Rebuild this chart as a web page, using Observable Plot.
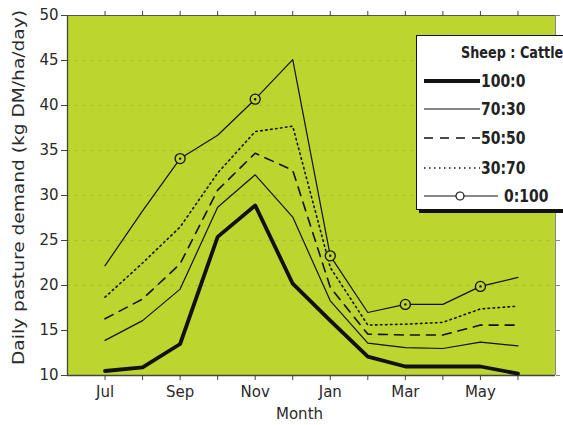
<!DOCTYPE html>
<html>
<head>
<meta charset="utf-8">
<script src="https://cdn.jsdelivr.net/npm/d3@7"></script>
<script src="https://cdn.jsdelivr.net/npm/@observablehq/plot@0.6"></script>
<style>
  html, body { margin: 0; padding: 0; background: #fff; }
  #wrap { position: relative; width: 563px; height: 425px; overflow: hidden; font-family: "DejaVu Sans", sans-serif; }
  #legend { position: absolute; left: 416px; top: 35px; width: 160px; height: 175px; background: #fff; border: 1.5px solid #111; box-shadow: 3px 3px 0 #111; box-sizing: border-box; }
  #legend .title { position: absolute; left: 44px; top: 7px; font-weight: bold; font-size: 16px; color: #222; white-space: nowrap; transform: scaleX(0.8); transform-origin: left center; }
  #legend .row { position: absolute; left: 5px; height: 20px; display: flex; align-items: center; font-size: 17px; font-weight: bold; color: #222; }
  #legend .row span { display: inline-block; transform: scaleX(0.82); transform-origin: left center; }
  #legend svg { display: block; }
</style>
</head>
<body>
<div id="wrap"></div>
<script>
const months = ["Jul","Aug","Sep","Oct","Nov","Dec","Jan","Feb","Mar","Apr","May","Jun"];
const labels = ["100:0","70:30","50:50","30:70","0:100"];
const s100_0 = [10.5,10.9,13.5,25.4,28.9,20.2,16.1,12.1,11.0,11.0,11.0,10.2];
const s70_30 = [13.9,16.1,19.6,28.7,32.3,27.6,18.3,13.6,13.1,13.0,13.7,13.3];
const s50_50 = [16.3,18.5,22.4,30.6,34.7,32.8,19.8,14.6,14.5,14.5,15.6,15.6];
const s30_70 = [18.7,22.5,26.5,32.5,37.1,37.7,22.0,15.6,15.7,15.9,17.4,17.7];
const s0_100 = [22.2,28.3,34.1,36.7,40.7,45.1,23.3,17.0,17.9,17.9,19.9,20.9];
const markerMonths = ["Sep","Nov","Jan","Mar","May"];
const yTicks = [10,15,20,25,30,35,40,45,50];
const gridValues = [20,25,30,35,40,45];

const series = [s100_0, s70_30, s50_50, s30_70, s0_100];
const styles = [
  {strokeWidth: 3.8},
  {strokeWidth: 1.2},
  {strokeWidth: 1.6, strokeDasharray: "9,7"},
  {strokeWidth: 1.6, strokeDasharray: "1.5,3.5"},
  {strokeWidth: 1.2}
];
const rows = [];
series.forEach((vals, si) => vals.forEach((v, i) => rows.push({ratio: labels[si], x: i, month: months[i], y: v})));
const markers = rows.filter(d => d.ratio === "0:100" && markerMonths.includes(d.month));

const chart = Plot.plot({
  width: 563,
  height: 425,
  marginLeft: 67,
  marginRight: 8,
  marginTop: 15,
  marginBottom: 50,
  style: {fontFamily: '"DejaVu Sans", sans-serif', fontSize: "15px", color: "#2a2a2a", background: "transparent", overflow: "visible"},
  x: {domain: [-1, 12]},
  y: {domain: [10, 50]},
  marks: [
    Plot.frame({fill: "#bdd62f", stroke: null}),
    Plot.ruleY(gridValues, {stroke: "#8fa52a", strokeOpacity: 0.45, strokeDasharray: "3,5", strokeWidth: 1}),
    Plot.ruleY([50], {stroke: "#555", strokeWidth: 1}),
    Plot.ruleY([10], {stroke: "#444", strokeWidth: 1.3}),
    Plot.ruleX([-1], {stroke: "#444", strokeWidth: 1.3}),
    Plot.ruleX([12], {stroke: "#888", strokeWidth: 1}),
    ...labels.map((lab, si) => Plot.line(rows.filter(d => d.ratio === lab), {x: "x", y: "y", stroke: "#111", strokeLinejoin: "round", ...styles[si]})),
    Plot.dot(markers, {x: "x", y: "y", r: 5, stroke: "#111", strokeWidth: 1.3, fill: "#bdd62f"}),
    Plot.dot(markers, {x: "x", y: "y", r: 1.2, fill: "#111"}),
    Plot.axisX(d3.range(0, 12), {tickSize: 5, tickPadding: 6, stroke: "#444", tickFormat: i => i % 2 === 0 ? months[i] : "", fontSize: 15, label: null}),
    Plot.axisX(d3.range(0, 12), {anchor: "top", tickSize: 5, stroke: "#444", tickFormat: () => "", label: null}),
    Plot.axisY(yTicks, {tickSize: 6, tickPadding: 3, stroke: "#444", fontSize: 15, label: null}),
    Plot.axisY(yTicks, {anchor: "right", tickSize: 4, stroke: "#888", tickFormat: () => "", label: null}),
    Plot.text(["Month"], {frameAnchor: "bottom", dx: -12, dy: 43, fontSize: 15, fill: "#2a2a2a"}),
    Plot.text(["Daily pasture demand (kg DM/ha/day)"], {frameAnchor: "left", textAnchor: "middle", dx: -49, dy: -8, rotate: -90, fontSize: 16, fill: "#2a2a2a", className: "ytitle"})
  ]
});
chart.style.position = "absolute";
chart.style.left = "0";
chart.style.top = "0";
const yt = chart.querySelector(".ytitle text");
if (yt) { yt.setAttribute("textLength", 355); yt.setAttribute("lengthAdjust", "spacingAndGlyphs"); }
const wrap = document.getElementById("wrap");
wrap.appendChild(chart);

// Legend
const legend = document.createElement("div");
legend.id = "legend";
const title = document.createElement("div");
title.className = "title";
title.textContent = "Sheep : Cattle";
legend.appendChild(title);
const rowTops = [35, 63, 92, 122, 150];
labels.forEach((lab, si) => {
  const row = document.createElement("div");
  row.className = "row";
  row.style.top = rowTops[si] + "px";
  const st = styles[si];
  const w = si === 4 ? 76 : 58;
  const svgNS = "http://www.w3.org/2000/svg";
  const svg = document.createElementNS(svgNS, "svg");
  svg.setAttribute("width", w);
  svg.setAttribute("height", 20);
  const ln = document.createElementNS(svgNS, "line");
  ln.setAttribute("x1", 2); ln.setAttribute("x2", w); ln.setAttribute("y1", 10); ln.setAttribute("y2", 10);
  ln.setAttribute("stroke", "#111");
  ln.setAttribute("stroke-width", st.strokeWidth);
  if (st.strokeDasharray) ln.setAttribute("stroke-dasharray", st.strokeDasharray);
  svg.appendChild(ln);
  if (si === 4) {
    const c = document.createElementNS(svgNS, "circle");
    c.setAttribute("cx", w / 2); c.setAttribute("cy", 10); c.setAttribute("r", 4);
    c.setAttribute("fill", "#fff"); c.setAttribute("stroke", "#111"); c.setAttribute("stroke-width", 1.2);
    svg.appendChild(c);
  }
  row.appendChild(svg);
  const t = document.createElement("span");
  t.textContent = lab;
  t.style.marginLeft = si === 4 ? "6px" : "1px";
  row.appendChild(t);
  legend.appendChild(row);
});
wrap.appendChild(legend);
</script>
</body>
</html>
